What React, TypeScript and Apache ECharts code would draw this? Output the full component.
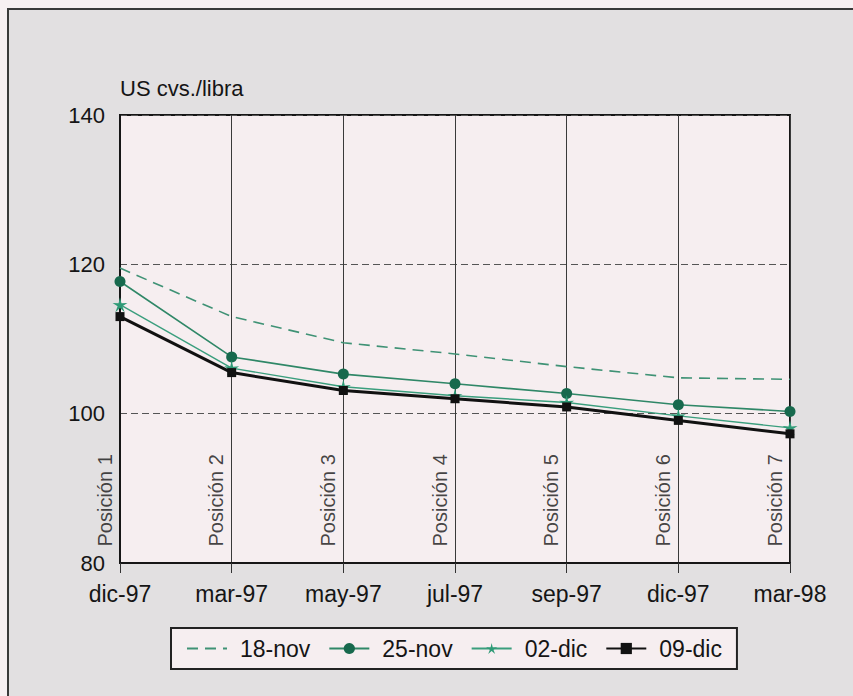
import React, { useEffect, useRef } from "react";
import * as echarts from "echarts";

// Contract months on the horizontal axis
const months = ["dic-97", "mar-97", "may-97", "jul-97", "sep-97", "dic-97", "mar-98"];
// Position labels written along each month line
const positions = ["Posición 1", "Posición 2", "Posición 3", "Posición 4", "Posición 5", "Posición 6", "Posición 7"];

// Futures curves (US cents per pound) by trading date
const nov18 = [119.5, 113.0, 109.5, 108.0, 106.3, 104.8, 104.6];
const nov25 = [117.7, 107.6, 105.3, 104.0, 102.7, 101.2, 100.3];
const dic02 = [114.6, 106.1, 103.6, 102.4, 101.5, 99.7, 98.1];
const dic09 = [113.0, 105.5, 103.1, 102.0, 100.9, 99.1, 97.3];

const seriesNames = ["18-nov", "25-nov", "02-dic", "09-dic"];

const yMin = 80;
const yMax = 140;
const yStep = 20;

const FONT = "'Liberation Sans', Arial, Helvetica, sans-serif";
const STAR =
  "path://M50,0 L59.4,37.06 L97.55,34.55 L65.22,54.94 L79.39,90.45 L50,66 L20.61,90.45 L34.78,54.94 L2.45,34.55 L40.6,37.06 Z";

export default function App() {
  const ref = useRef<HTMLDivElement>(null);

  useEffect(() => {
    if (!ref.current) return;
    const chart = echarts.init(ref.current, undefined, { renderer: "svg" });

    chart.setOption({
      animation: false,
      backgroundColor: "#f7f0f2",
      textStyle: { fontFamily: FONT },
      graphic: [
        {
          type: "rect",
          z: -10,
          silent: true,
          shape: { x: 8, y: 9, width: 900, height: 800 },
          style: { fill: "#e2e0e1", stroke: "#3a3a3a", lineWidth: 2 },
        },
      ],
      title: {
        text: "US cvs./libra",
        left: 120,
        top: 77,
        padding: 0,
        textStyle: { fontFamily: FONT, fontSize: 22, fontWeight: "normal", color: "#151515" },
      },
      grid: {
        left: 120,
        right: 63,
        top: 115,
        bottom: 133,
        show: true,
        backgroundColor: "#f6eef0",
        borderColor: "#161616",
        borderWidth: 2,
        containLabel: false,
      },
      legend: {
        data: [
          // dashed curve has no markers, so its key shows only the line
          { name: seriesNames[0], itemStyle: { color: "rgba(0,0,0,0)", borderWidth: 0 } },
          { name: seriesNames[1] },
          { name: seriesNames[2] },
          { name: seriesNames[3] },
        ],
        left: 171,
        top: 628,
        orient: "horizontal",
        padding: [9, 15],
        itemGap: 18,
        itemWidth: 40,
        itemHeight: 14,
        backgroundColor: "#f6eef0",
        borderColor: "#222",
        borderWidth: 2,
        borderRadius: 0,
        textStyle: { fontFamily: FONT, fontSize: 23, color: "#151515", padding: [0, 0, 0, 8] },
      },
      xAxis: {
        type: "category",
        data: months,
        boundaryGap: false,
        axisLine: { show: true, lineStyle: { color: "#161616", width: 2 } },
        axisTick: { show: true, inside: false, length: 10, alignWithLabel: true, lineStyle: { color: "#333", width: 1 } },
        axisLabel: { fontFamily: FONT, fontSize: 23, color: "#151515", margin: 19, interval: 0 },
        splitLine: { show: true, lineStyle: { color: "#3a3a3a", width: 1 } },
      },
      yAxis: {
        type: "value",
        min: yMin,
        max: yMax,
        interval: yStep,
        axisLine: { show: true, lineStyle: { color: "#161616", width: 2 } },
        axisTick: { show: false },
        axisLabel: { fontFamily: FONT, fontSize: 22, color: "#151515", margin: 15 },
        splitLine: { show: true, lineStyle: { color: "#555", width: 1, type: [7, 4] } },
      },
      series: [
        {
          name: "18-nov",
          type: "line",
          data: nov18,
          symbol: "none",
          color: "#3f9275",
          lineStyle: { color: "#3f9275", width: 1.6, type: [11, 7] },
          z: 3,
        },
        {
          name: "25-nov",
          type: "line",
          data: nov25,
          symbol: "circle",
          symbolSize: 11,
          color: "#17694d",
          itemStyle: { color: "#17694d" },
          lineStyle: { color: "#2f8767", width: 1.6 },
          z: 4,
        },
        {
          name: "02-dic",
          type: "line",
          data: dic02,
          symbol: STAR,
          symbolSize: 15,
          color: "#2e9a76",
          itemStyle: { color: "#2e9a76" },
          lineStyle: { color: "#3a9e7d", width: 1.4 },
          z: 5,
        },
        {
          name: "09-dic",
          type: "line",
          data: dic09,
          symbol: "rect",
          symbolSize: 9,
          color: "#111",
          itemStyle: { color: "#111" },
          lineStyle: { color: "#111", width: 3 },
          z: 6,
        },
        {
          // Rotated position captions at the foot of each month line
          name: "posiciones",
          type: "scatter",
          data: positions.map(() => yMin),
          symbol: "rect",
          symbolSize: 1,
          itemStyle: { color: "rgba(0,0,0,0)" },
          silent: true,
          z: 2,
          label: {
            show: true,
            formatter: (p: any) => positions[p.dataIndex],
            position: [-5, -16],
            rotate: 90,
            align: "left",
            verticalAlign: "bottom",
            fontFamily: FONT,
            fontSize: 20,
            color: "#151515",
          },
        },
      ],
    });

    return () => chart.dispose();
  }, []);

  return (
    <div
      ref={ref}
      style={{ position: "fixed", left: 0, top: 0, width: 853, height: 696 }}
    />
  );
}
